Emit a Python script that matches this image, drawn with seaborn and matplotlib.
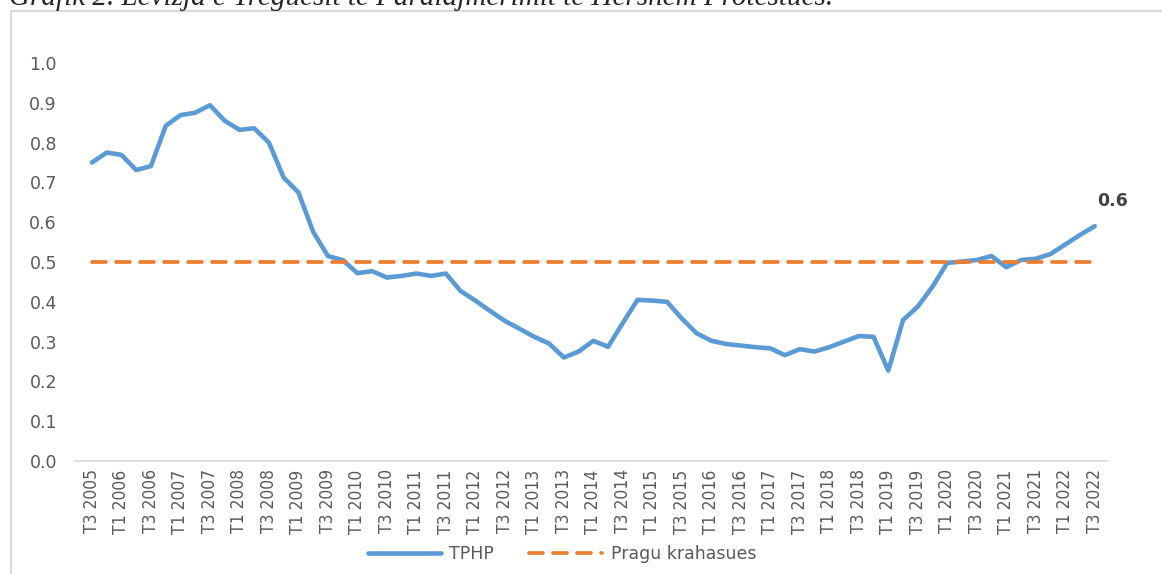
import seaborn as sns
import matplotlib.pyplot as plt
import matplotlib.patches as mpatches
import pandas as pd
import numpy as np

# quarterly periods T3 2005 ... T3 2022
quarters = [f"T{q} {y}" for y in range(2005, 2023) for q in range(1, 5)][2:-1]

tphp = [0.750, 0.775, 0.769, 0.731, 0.741, 0.842, 0.869, 0.875, 0.894, 0.855,
        0.832, 0.836, 0.800, 0.712, 0.675, 0.576, 0.515, 0.505, 0.472, 0.477,
        0.461, 0.465, 0.471, 0.465, 0.471, 0.427, 0.403, 0.377, 0.352, 0.332,
        0.312, 0.295, 0.260, 0.275, 0.302, 0.287, 0.347, 0.405, 0.403, 0.400,
        0.358, 0.321, 0.302, 0.294, 0.290, 0.286, 0.283, 0.266, 0.281, 0.275,
        0.286, 0.300, 0.314, 0.312, 0.227, 0.354, 0.388, 0.438, 0.498, 0.501,
        0.505, 0.515, 0.487, 0.505, 0.508, 0.520, 0.544, 0.568, 0.590]
prag = [0.5] * len(quarters)

y_ticks = [0.0, 0.1, 0.2, 0.3, 0.4, 0.5, 0.6, 0.7, 0.8, 0.9, 1.0]

df = pd.DataFrame({'pos': np.arange(len(quarters)), 'period': quarters,
                   'TPHP': tphp, 'Pragu krahasues': prag})

sns.set_style('white')
plt.rcParams['font.family'] = ['DejaVu Sans']

fig = plt.figure(figsize=(11.62, 5.74), dpi=100)
ax = fig.add_axes([75/1162, 1-461/574, 1033/1162, 398/574])

blue = '#5B9BD5'
orange = '#ED7D31'
grey = '#595959'

sns.lineplot(data=df, x='pos', y='TPHP', ax=ax, color=blue, lw=3.3,
             label='TPHP', solid_capstyle='round', solid_joinstyle='round')
sns.lineplot(data=df, x='pos', y='Pragu krahasues', ax=ax, color=orange, lw=2.7,
             label='Pragu krahasues', dashes=False)
ax.lines[1].set_dashes((3.7, 2.7))
ax.lines[1].set_dash_capstyle('round')

ax.set_xlim(-1.15, 68.9)
ax.set_ylim(0, 1.0)
ax.set_yticks(y_ticks)
ax.set_yticklabels([f"{v:.1f}" for v in y_ticks], color=grey, fontsize=12.5)
ax.set_xticks(df['pos'][::2])
ax.set_xticklabels(df['period'][::2], rotation=90, color=grey, fontsize=12.5,
                   family='DejaVu Sans', fontstretch='condensed')
ax.tick_params(axis='both', length=0)
ax.tick_params(axis='y', pad=13)
ax.tick_params(axis='x', pad=6)
ax.set_xlabel('')
ax.set_ylabel('')
for s in ['top', 'right', 'left']:
    ax.spines[s].set_visible(False)
ax.spines['bottom'].set_color('#d9d9d9')
ax.spines['bottom'].set_linewidth(1.2)
ax.grid(False)

# label for last value
ax.text(len(tphp) - 1 + 1.2, tphp[-1] + 0.064, f"{tphp[-1]:.1f}", fontsize=12.5,
        fontweight='bold', color='#404040', ha='center', va='center')

ax.get_legend().remove()
handles, labels = ax.get_legend_handles_labels()
fig.legend(handles, labels, loc='center', bbox_to_anchor=(562/1162, 1-554/574),
           ncol=2, frameon=False, fontsize=12.5, handlelength=4.2, columnspacing=2.0,
           handletextpad=0.5, labelcolor=grey)

# outer chart border (cut at right and bottom)
fig.patches.append(mpatches.Rectangle((11/1162, -0.1), 1.2, (574-11)/574 + 0.1,
                                      transform=fig.transFigure, fill=False,
                                      edgecolor='#d9d9d9', lw=1.5))

# caption at top, cut by the page edge as in the source
fig.text(9/1162, 1-5/574, "Grafik 2. Lëvizja e Treguesit të Paralajmërimit të Hershëm Protestues.",
         family='Liberation Serif', style='italic', fontsize=21, ha='left', va='baseline')

plt.savefig('out.png', dpi=100)
plt.close()
